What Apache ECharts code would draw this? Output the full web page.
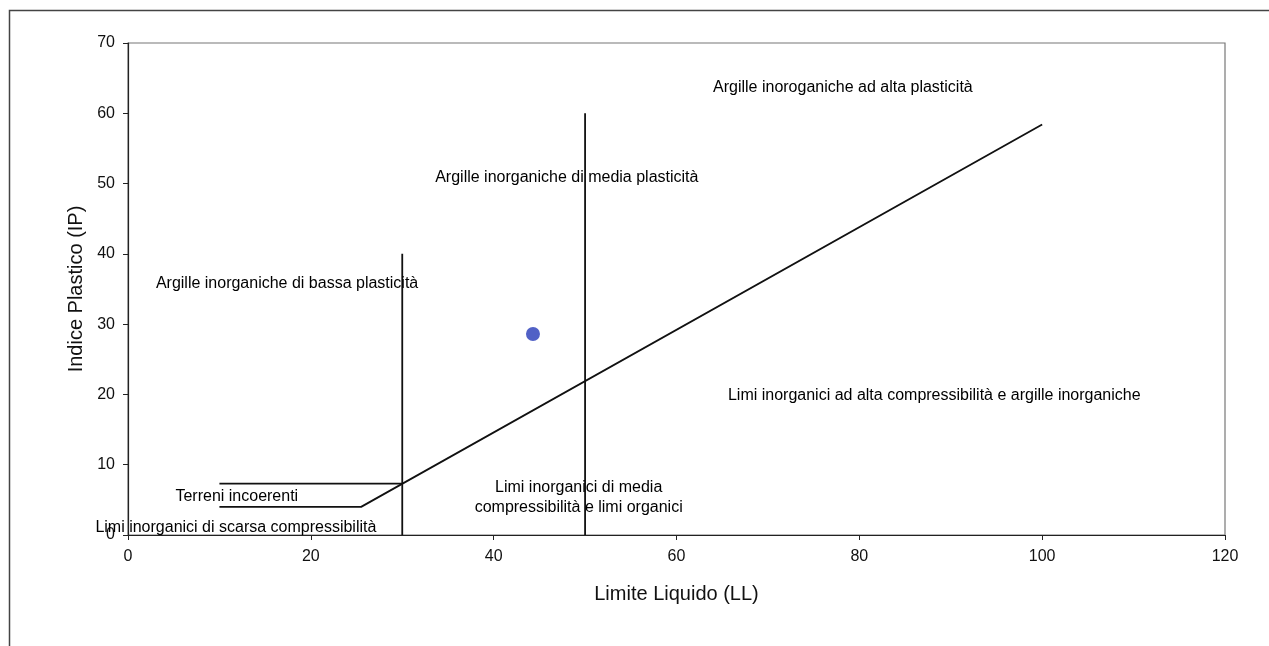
<!DOCTYPE html>
<html>
<head>
<meta charset="utf-8">
<script src="https://cdn.jsdelivr.net/npm/echarts@6/dist/echarts.min.js"></script>
<style>
html,body{margin:0;padding:0;background:#fff;}
#chart{width:1269px;height:646px;}
</style>
</head>
<body>
<div id="chart"></div>
<script>
// Data
const xTicks = [0, 20, 40, 60, 80, 100, 120];
const yTicks = [0, 10, 20, 30, 40, 50, 60, 70];
const aLine = [[10, 4], [25.5, 4], [100, 58.4]];
const upperBound = [[10, 7.3], [30, 7.3]];
const vLine30 = [[30, 0], [30, 40]];
const vLine50 = [[50, 0], [50, 60]];
const samplePoint = [[44.3, 28.6]];
const regionLabels = [
  [78.2, 63.6, 'Argille inoroganiche ad alta plasticità'],
  [48.0, 50.9, 'Argille inorganiche di media plasticità'],
  [17.4, 35.7, 'Argille inorganiche di bassa plasticità'],
  [88.2, 19.9, 'Limi inorganici ad alta compressibilità e argille inorganiche'],
  [49.3, 5.3, 'Limi inorganici di media\ncompressibilità e limi organici'],
  [11.9, 5.4, 'Terreni incoerenti'],
  [11.8, 1.0, 'Limi inorganici di scarsa compressibilità']
];

const FONT = '"Liberation Sans", Arial, sans-serif';
const lineStyle = {color: '#111', width: 1.8};
function lineSeries(data) {
  return {type: 'line', data: data, symbol: 'none', lineStyle: lineStyle, silent: true, animation: false, z: 3};
}

const chart = echarts.init(document.getElementById('chart'));
chart.setOption({
  backgroundColor: '#fff',
  animation: false,
  graphic: [{
    type: 'rect', left: 7, top: 8, shape: {width: 1300, height: 700},
    style: {fill: 'none', stroke: '#444', lineWidth: 1.5}, silent: true
  }],
  grid: {left: 128, top: 43, right: 44, bottom: 111, show: true, borderColor: '#777', borderWidth: 1.2, backgroundColor: 'transparent'},
  xAxis: {
    type: 'value', min: xTicks[0], max: xTicks[xTicks.length - 1], interval: 20,
    name: 'Limite Liquido (LL)', nameLocation: 'middle', nameGap: 49,
    nameTextStyle: {fontFamily: FONT, fontSize: 20, color: '#111'},
    axisLine: {lineStyle: {color: '#222', width: 1.2}},
    axisTick: {show: true, length: 5, lineStyle: {color: '#222'}},
    axisLabel: {fontFamily: FONT, fontSize: 16, color: '#111', margin: 14},
    splitLine: {show: false}
  },
  yAxis: {
    type: 'value', min: yTicks[0], max: yTicks[yTicks.length - 1], interval: 10,
    name: 'Indice Plastico (IP)', nameLocation: 'middle', nameGap: 40,
    nameTextStyle: {fontFamily: FONT, fontSize: 20, color: '#111'},
    axisLine: {lineStyle: {color: '#222', width: 1.2}},
    axisTick: {show: true, length: 5, lineStyle: {color: '#222'}},
    axisLabel: {fontFamily: FONT, fontSize: 16, color: '#111', margin: 13},
    splitLine: {show: false}
  },
  series: [
    lineSeries(aLine),
    lineSeries(upperBound),
    lineSeries(vLine30),
    lineSeries(vLine50),
    {
      type: 'scatter', data: samplePoint, symbol: 'circle', symbolSize: 14,
      itemStyle: {color: '#5161c6', opacity: 1}, z: 5, animation: false
    },
    {
      type: 'scatter', clip: false, silent: true, animation: false, z: 4,
      data: regionLabels.map(d => ({value: [d[0], d[1]], name: d[2]})),
      symbolSize: 1,
      itemStyle: {color: 'rgba(0,0,0,0)', opacity: 1},
      label: {
        show: true, position: 'inside', formatter: p => p.name,
        fontFamily: FONT, fontSize: 16, color: '#000', opacity: 1,
        textBorderWidth: 0, lineHeight: 20, align: 'center'
      }
    }
  ]
});
</script>
</body>
</html>
